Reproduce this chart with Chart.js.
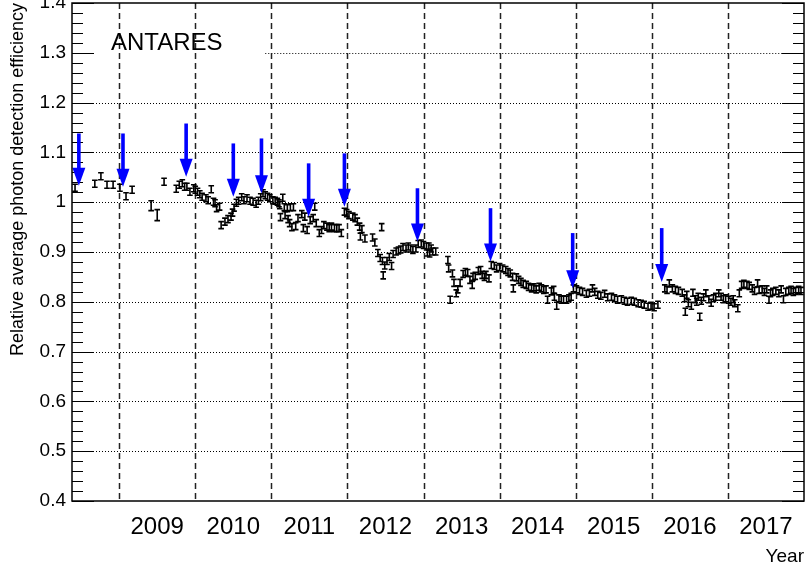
<!DOCTYPE html>
<html>
<head>
<meta charset="utf-8">
<script src="https://cdn.jsdelivr.net/npm/chart.js@4.4.1/dist/chart.umd.min.js"></script>
<style>
html, body { margin: 0; padding: 0; background: #fff; }
</style>
</head>
<body>
<canvas id="myChart" width="807" height="568"></canvas>
<script>
// measured points (decimal year, relative efficiency)
const years = [
  2008.42, 2008.68, 2008.76, 2008.84, 2008.92, 2009.01, 2009.09, 2009.17, 2009.42, 2009.50,
  2009.59, 2009.75, 2009.79, 2009.83, 2009.86, 2009.89, 2009.93, 2009.98, 2010.00, 2010.03,
  2010.06, 2010.09, 2010.14, 2010.17, 2010.21, 2010.24, 2010.26, 2010.28, 2010.32, 2010.34,
  2010.39, 2010.43, 2010.47, 2010.49, 2010.51, 2010.54, 2010.57, 2010.61, 2010.64, 2010.68,
  2010.72, 2010.76, 2010.80, 2010.83, 2010.86, 2010.89, 2010.92, 2010.95, 2010.98, 2011.02,
  2011.05, 2011.08, 2011.10, 2011.11, 2011.12, 2011.15, 2011.17, 2011.18, 2011.21, 2011.22,
  2011.24, 2011.25, 2011.27, 2011.29, 2011.32, 2011.35, 2011.40, 2011.42, 2011.44, 2011.47,
  2011.51, 2011.55, 2011.57, 2011.59, 2011.63, 2011.66, 2011.69, 2011.73, 2011.76, 2011.79,
  2011.83, 2011.86, 2011.89, 2011.92, 2011.96, 2011.99, 2012.02, 2012.07, 2012.10, 2012.13,
  2012.16, 2012.17, 2012.19, 2012.23, 2012.33, 2012.36, 2012.40, 2012.43, 2012.45, 2012.46,
  2012.47, 2012.49, 2012.52, 2012.55, 2012.58, 2012.60, 2012.64, 2012.67, 2012.70, 2012.73,
  2012.77, 2012.80, 2012.83, 2012.86, 2012.90, 2012.93, 2012.97, 2013.00, 2013.04, 2013.05,
  2013.07, 2013.08, 2013.10, 2013.12, 2013.16, 2013.32, 2013.33, 2013.35, 2013.38, 2013.40,
  2013.43, 2013.45, 2013.48, 2013.52, 2013.55, 2013.58, 2013.61, 2013.64, 2013.65, 2013.68,
  2013.72, 2013.75, 2013.77, 2013.80, 2013.82, 2013.86, 2013.89, 2013.93, 2013.96, 2014.00,
  2014.04, 2014.08, 2014.11, 2014.14, 2014.17, 2014.18, 2014.22, 2014.25, 2014.28, 2014.31,
  2014.35, 2014.38, 2014.42, 2014.45, 2014.48, 2014.52, 2014.55, 2014.58, 2014.61, 2014.63,
  2014.68, 2014.71, 2014.72, 2014.75, 2014.78, 2014.81, 2014.84, 2014.88, 2014.91, 2014.94,
  2014.97, 2015.01, 2015.05, 2015.09, 2015.14, 2015.18, 2015.22, 2015.25, 2015.29, 2015.33,
  2015.38, 2015.42, 2015.47, 2015.51, 2015.55, 2015.60, 2015.64, 2015.68, 2015.73, 2015.77,
  2015.82, 2015.86, 2015.90, 2015.95, 2015.99, 2016.03, 2016.08, 2016.17, 2016.20, 2016.23,
  2016.27, 2016.31, 2016.35, 2016.40, 2016.43, 2016.44, 2016.46, 2016.48, 2016.52, 2016.54,
  2016.57, 2016.59, 2016.61, 2016.63, 2016.65, 2016.68, 2016.71, 2016.75, 2016.78, 2016.81,
  2016.84, 2016.88, 2016.91, 2016.94, 2016.97, 2017.01, 2017.04, 2017.07, 2017.09, 2017.13,
  2017.15, 2017.18, 2017.21, 2017.25, 2017.28, 2017.32, 2017.35, 2017.39, 2017.41, 2017.45,
  2017.48, 2017.51, 2017.54, 2017.56, 2017.59, 2017.63, 2017.67, 2017.70, 2017.73, 2017.76,
  2017.80, 2017.83, 2017.86, 2017.89, 2017.93, 2017.96
];
const eff = [
  1.029, 1.037, 1.052, 1.035, 1.035, 1.029, 1.012, 1.025, 0.993, 0.974,
  1.041, 1.027, 1.035, 1.038, 1.031, 1.031, 1.021, 1.028, 1.025, 1.021,
  1.016, 1.011, 1.008, 1.004, 1.026, 1.001, 0.998, 0.988, 0.991, 0.954,
  0.961, 0.966, 0.971, 0.979, 0.989, 0.999, 1.003, 1.010, 1.004, 1.008,
  1.003, 1.001, 0.997, 1.003, 1.010, 1.018, 1.014, 1.011, 1.008, 1.004,
  1.003, 1.001, 0.998, 0.994, 0.970, 1.009, 0.990, 0.974, 0.988, 0.966,
  0.958, 0.990, 0.950, 0.990, 0.952, 0.968, 0.976, 0.948, 0.971, 0.944,
  0.964, 0.968, 0.991, 0.958, 0.938, 0.944, 0.954, 0.951, 0.948, 0.951,
  0.948, 0.948, 0.948, 0.938, 0.981, 0.978, 0.974, 0.971, 0.968, 0.961,
  0.951, 0.931, 0.946, 0.927, 0.929, 0.919, 0.898, 0.888, 0.950, 0.882,
  0.853, 0.873, 0.882, 0.890, 0.872, 0.896, 0.901, 0.903, 0.905, 0.910,
  0.907, 0.911, 0.907, 0.904, 0.907, 0.916, 0.917, 0.914, 0.911, 0.899,
  0.911, 0.897, 0.907, 0.901, 0.901, 0.884, 0.867, 0.804, 0.857, 0.838,
  0.817, 0.825, 0.838, 0.856, 0.860, 0.858, 0.844, 0.834, 0.850, 0.852,
  0.862, 0.864, 0.854, 0.850, 0.854, 0.847, 0.874, 0.872, 0.867, 0.870,
  0.867, 0.864, 0.860, 0.857, 0.850, 0.827, 0.849, 0.844, 0.840, 0.836,
  0.834, 0.830, 0.827, 0.829, 0.825, 0.830, 0.827, 0.824, 0.825, 0.804,
  0.821, 0.824, 0.810, 0.792, 0.807, 0.804, 0.805, 0.804, 0.807, 0.810,
  0.827, 0.825, 0.822, 0.820, 0.816, 0.818, 0.827, 0.820, 0.814, 0.812,
  0.816, 0.809, 0.810, 0.807, 0.804, 0.805, 0.802, 0.800, 0.802, 0.800,
  0.797, 0.796, 0.794, 0.790, 0.792, 0.789, 0.794, 0.827, 0.824, 0.837,
  0.827, 0.824, 0.822, 0.818, 0.807, 0.780, 0.814, 0.797, 0.792, 0.818,
  0.805, 0.800, 0.810, 0.770, 0.802, 0.809, 0.817, 0.805, 0.798, 0.807,
  0.810, 0.817, 0.810, 0.805, 0.807, 0.804, 0.800, 0.805, 0.797, 0.787,
  0.817, 0.834, 0.836, 0.834, 0.832, 0.827, 0.822, 0.837, 0.824, 0.825,
  0.820, 0.825, 0.804, 0.817, 0.820, 0.822, 0.817, 0.825, 0.805, 0.820,
  0.822, 0.824, 0.820, 0.822, 0.824, 0.822
];
const errDefault = 0.007;
// a few points have larger error bars
const bigErrYears = [2009.42, 2009.50];
const bigErrValues = [0.010, 0.011];

// calibration arrows: year, value at arrow top, value at arrow tip
const arrowYears = [2008.47, 2009.05, 2009.88, 2010.50, 2010.87, 2011.49, 2011.96, 2012.92, 2013.88, 2014.96, 2016.13];
const arrowTop   = [1.138, 1.138, 1.158, 1.118, 1.128, 1.078, 1.098, 1.028, 0.988, 0.938, 0.948];
const arrowTip   = [1.033, 1.031, 1.051, 1.011, 1.018, 0.971, 0.991, 0.921, 0.881, 0.827, 0.840];

const yearLabels = [2009, 2010, 2011, 2012, 2013, 2014, 2015, 2016, 2017];
const yTicks = [0.4, 0.5, 0.6, 0.7, 0.8, 0.9, 1.0, 1.1, 1.2, 1.3, 1.4];

const FONT = "'Liberation Sans', Arial, Helvetica, sans-serif";
Chart.defaults.font.family = FONT;
Chart.defaults.color = '#000';

const rootStyle = {
    id: 'rootStyle',
    beforeDatasetsDraw(chart) {
        const ctx = chart.ctx;
        const a = chart.chartArea;
        const xs = chart.scales.x;
        const ys = chart.scales.y;
        ctx.save();

        // horizontal dotted grid
        ctx.strokeStyle = '#000';
        ctx.lineWidth = 1;
        ctx.setLineDash([1, 2]);
        for (const v of yTicks) {
            if (v <= 0.4 || v >= 1.4) continue;
            const py = Math.round(ys.getPixelForValue(v)) + 0.5;
            // the label box hides the left part of the 1.3 line
            const x0 = Math.abs(v - 1.3) < 1e-6 ? xs.getPixelForValue(2010.92) : a.left;
            ctx.beginPath();
            ctx.moveTo(x0, py);
            ctx.lineTo(a.right, py);
            ctx.stroke();
        }

        // vertical dashed lines at the start of each year
        ctx.strokeStyle = '#222';
        ctx.lineWidth = 1.5;
        ctx.setLineDash([6, 4]);
        for (const yr of yearLabels) {
            const px = Math.round(xs.getPixelForValue(yr)) + 0.5;
            ctx.beginPath();
            ctx.moveTo(px, a.top);
            ctx.lineTo(px, a.bottom);
            ctx.stroke();
        }
        ctx.setLineDash([]);

        // y ticks inside the frame on both sides
        ctx.strokeStyle = '#000';
        ctx.lineWidth = 1;
        for (let i = 0; i <= 50; i++) {
            const v = 0.4 + i * 0.02;
            const py = Math.round(ys.getPixelForValue(v)) + 0.5;
            const len = i % 5 === 0 ? 22 : 11;
            ctx.beginPath();
            ctx.moveTo(a.left, py);
            ctx.lineTo(a.left + len, py);
            ctx.moveTo(a.right, py);
            ctx.lineTo(a.right - len, py);
            ctx.stroke();
        }
        ctx.restore();
    },
    afterDatasetsDraw(chart) {
        const ctx = chart.ctx;
        const a = chart.chartArea;
        const xs = chart.scales.x;
        const ys = chart.scales.y;
        ctx.save();

        // error bars
        ctx.strokeStyle = '#000';
        ctx.lineWidth = 1.6;
        for (let i = 0; i < years.length; i++) {
            const k = bigErrYears.indexOf(years[i]);
            const e = k >= 0 ? bigErrValues[k] : errDefault;
            const px = xs.getPixelForValue(years[i]);
            const top = ys.getPixelForValue(eff[i] + e);
            const bot = ys.getPixelForValue(eff[i] - e);
            ctx.beginPath();
            ctx.moveTo(px, top);
            ctx.lineTo(px, bot);
            ctx.moveTo(px - 2.8, top);
            ctx.lineTo(px + 2.8, top);
            ctx.moveTo(px - 2.8, bot);
            ctx.lineTo(px + 2.8, bot);
            ctx.stroke();
        }

        // blue arrows
        ctx.fillStyle = '#0000ff';
        for (let i = 0; i < arrowYears.length; i++) {
            const px = xs.getPixelForValue(arrowYears[i]);
            const pTop = ys.getPixelForValue(arrowTop[i]);
            const pTip = ys.getPixelForValue(arrowTip[i]);
            const head = 18;
            ctx.fillRect(px - 1.8, pTop, 3.6, pTip - pTop - head + 1);
            ctx.beginPath();
            ctx.moveTo(px - 6.5, pTip - head);
            ctx.lineTo(px + 6.5, pTip - head);
            ctx.lineTo(px, pTip);
            ctx.closePath();
            ctx.fill();
        }

        // frame
        ctx.strokeStyle = '#000';
        ctx.lineWidth = 1.5;
        ctx.strokeRect(a.left, a.top, a.right - a.left, a.bottom - a.top);

        // label
        ctx.fillStyle = '#000';
        ctx.font = '24px ' + FONT;
        ctx.textBaseline = 'alphabetic';
        ctx.textAlign = 'left';
        ctx.fillText('ANTARES', a.left + 39, 50);
        ctx.restore();
    }
};

const chartData = {
    datasets: [{
        label: 'efficiency',
        data: years.map((t, i) => ({ x: t, y: eff[i] })),
        pointRadius: 0,
        pointHoverRadius: 0,
        showLine: false
    }]
};

const config = {
    type: 'scatter',
    data: chartData,
    options: {
        responsive: false,
        animation: false,
        devicePixelRatio: 1,
        layout: { padding: { top: 3, right: 3, left: 0, bottom: 0 } },
        plugins: {
            legend: { display: false },
            tooltip: { enabled: false }
        },
        scales: {
            x: {
                type: 'linear',
                min: 2008.38,
                max: 2018.0,
                afterBuildTicks(scale) {
                    scale.ticks = yearLabels.map(y => ({ value: y + 0.5 }));
                },
                afterFit(scale) {
                    scale.height = 67;
                    scale.paddingLeft = 0;
                    scale.paddingRight = 0;
                },
                grid: { display: false, drawTicks: false },
                border: { display: false },
                ticks: {
                    autoSkip: false,
                    maxRotation: 0,
                    padding: 12,
                    font: { size: 24 },
                    color: '#000',
                    callback: v => String(Math.floor(v))
                },
                title: {
                    display: true,
                    text: 'Year',
                    align: 'end',
                    font: { size: 19 },
                    color: '#000',
                    padding: { top: 0, bottom: 0 }
                }
            },
            y: {
                min: 0.4,
                max: 1.4,
                afterBuildTicks(scale) {
                    scale.ticks = yTicks.map(v => ({ value: v }));
                },
                afterFit(scale) {
                    scale.width = 72;
                    scale.paddingTop = 0;
                    scale.paddingBottom = 0;
                },
                grid: { display: false, drawTicks: false },
                border: { display: false },
                ticks: {
                    padding: 6,
                    font: { size: 19 },
                    color: '#000',
                    callback: v => String(Math.round(v * 10) / 10)
                },
                title: {
                    display: true,
                    text: 'Relative average photon detection efficiency',
                    align: 'end',
                    font: { size: 18 },
                    color: '#000',
                    padding: { top: 7, bottom: 0 }
                }
            }
        }
    },
    plugins: [rootStyle]
};

new Chart(document.getElementById('myChart'), config);
</script>
</body>
</html>
